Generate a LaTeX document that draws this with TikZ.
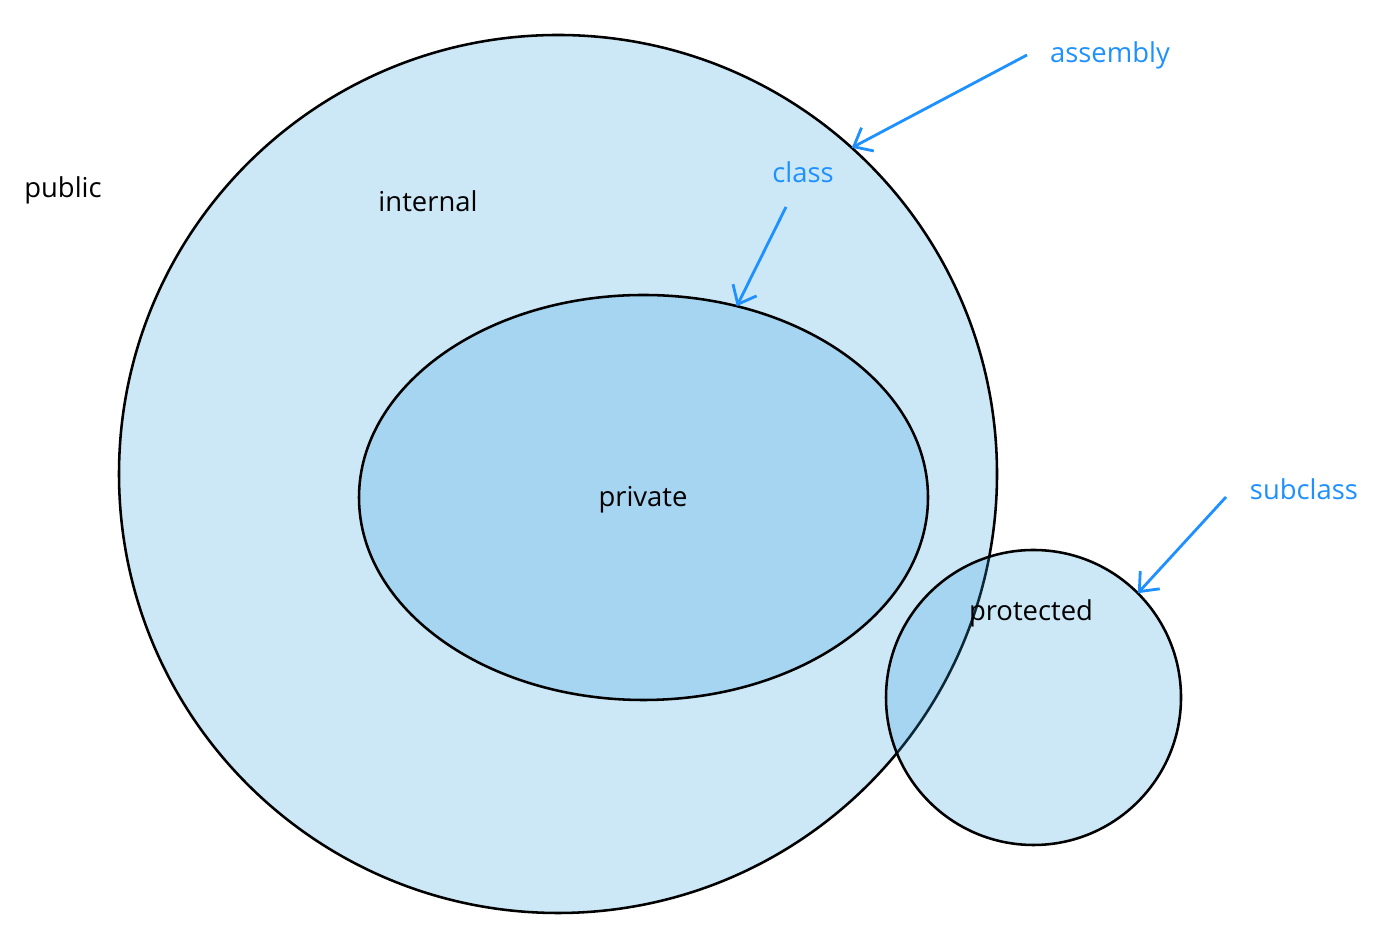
\documentclass[tikz,border=0pt]{standalone}
\usepackage{fontspec}
\setmainfont{Open Sans}
\usetikzlibrary{arrows.meta,shapes.geometric}
\definecolor{zonefill}{RGB}{50,160,220}
\definecolor{linkblue}{RGB}{30,144,255}

\begin{document}
\begin{tikzpicture}[line width=1.45pt,
  zone node/.style={draw=black,fill=zonefill,fill opacity=0.25,draw opacity=1,inner sep=0pt,outer sep=0pt},
  text node/.style={font=\fontsize{15.6}{19}\selectfont,inner sep=0pt,text=black},
  link node/.style={text node,text=linkblue},
  link/.style={draw=linkblue,line width=1.6pt,-{Straight Barb[length=9pt,width=15pt]}}]
  \useasboundingbox (0,0) rectangle (27.46,18.86);

  % the scopes
  \node[zone node,circle,minimum size=17.56cm] (internal zone) at (11.16,9.38) {};
  \node[zone node,ellipse,minimum width=11.38cm,minimum height=8.1cm] (private zone) at (12.87,8.91) {};
  \node[zone node,circle,minimum size=5.9cm] (protected zone) at (20.67,4.91) {};

  % access levels
  \node[text node] (public) at (1.26,15.06) {public};
  \node[text node] (internal) at (8.56,14.84) {internal};
  \node[text node] (private) at (12.86,8.87) {private};
  \node[text node] (protected) at (20.62,6.60) {protected};

  % where they reach
  \node[link node] (assembly) at (22.2,17.76) {assembly};
  \node[link node] (class) at (16.06,15.42) {class};
  \node[link node] (subclass) at (26.08,9.08) {subclass};

  \coordinate (assembly tail) at (20.54,17.76);
  \coordinate (class tail) at (15.72,14.72);
  \coordinate (subclass tail) at (24.52,8.92);

  \draw[link] (assembly tail) -- (internal zone.48.4);
  \draw[link] (class tail) -- (private zone.64.2);
  \draw[link] (subclass tail) -- (protected zone.45.6);
\end{tikzpicture}
\end{document}
